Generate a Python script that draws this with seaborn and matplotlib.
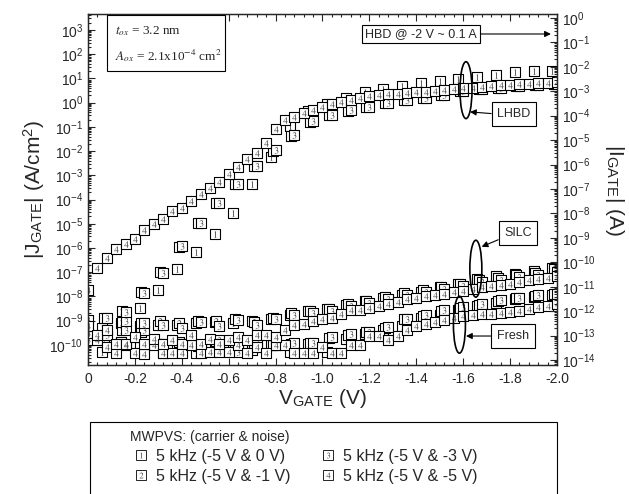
import numpy as np
import pandas as pd
import matplotlib
matplotlib.use("Agg")
import matplotlib.pyplot as plt
import seaborn as sns
from matplotlib.patches import Ellipse, Rectangle
from matplotlib.lines import Line2D
from matplotlib.ticker import LogLocator, MultipleLocator, FuncFormatter, NullFormatter

# --- gate voltage sweeps (V) ---
# series 4 is sampled every 40 mV, series 1-3 every 80 mV
V4 = [0.00, -0.04, -0.08, -0.12, -0.16, -0.20, -0.24, -0.28, -0.32, -0.36,
      -0.40, -0.44, -0.48, -0.52, -0.56, -0.60, -0.64, -0.68, -0.72, -0.76,
      -0.80, -0.84, -0.88, -0.92, -0.96, -1.00, -1.04, -1.08, -1.12, -1.16,
      -1.20, -1.24, -1.28, -1.32, -1.36, -1.40, -1.44, -1.48, -1.52, -1.56,
      -1.60, -1.64, -1.68, -1.72, -1.76, -1.80, -1.84, -1.88, -1.92, -1.96, -2.00]
V3 = [0.00, -0.08, -0.16, -0.24, -0.32, -0.40, -0.48, -0.56, -0.64, -0.72,
      -0.80, -0.88, -0.96, -1.04, -1.12, -1.20, -1.28, -1.36, -1.44, -1.52,
      -1.60, -1.68, -1.76, -1.84, -1.92, -2.00]
V2 = [-0.067, -0.147, -0.227, -0.307, -0.387, -0.467, -0.547, -0.627, -0.707,
      -0.787, -0.867, -0.947, -1.027, -1.107, -1.187, -1.267, -1.347, -1.427,
      -1.507, -1.587, -1.667, -1.747, -1.827, -1.907, -1.987]
V1 = [-0.06, -0.14, -0.22, -0.30, -0.38, -0.46, -0.54, -0.62, -0.70, -0.78,
      -0.86, -0.94, -1.02, -1.10, -1.18, -1.26, -1.34, -1.42, -1.50, -1.58,
      -1.66, -1.74, -1.82, -1.90, -1.98]

# --- log10 |J_GATE| (A/cm2); None = no point ---
FRESH1 = [-10.29, -9.90, -10.10, -9.95, -10.00, -10.33, -10.05, -9.95, -10.20, -10.00,
          -10.29, -9.95, -10.29, -9.75, -9.55, -9.40, -9.20, -8.90, -8.75, -8.55,
          -8.40, -8.28, -8.12, -8.02, -7.92]
SILC1 = [-9.30, -9.10, -9.20, -9.19, -9.19, -9.10, -9.05, -9.10, -9.00, -8.95,
         -8.75, -8.62, -8.52, -8.35, -8.18, -8.05, -7.92, -7.80, -7.63, -7.50,
         -7.30, -7.16, -7.07, -6.95, -6.82]
LHBD1 = [None, None, -8.47, -7.74, -6.88, -6.16, -5.43, -4.55, -3.36, -2.26,
         -0.95, -0.35, -0.05, 0.20, 0.43, 0.56, 0.70, 0.80, 0.91, 0.98,
         1.06, 1.15, 1.25, 1.29, 1.32]

FRESH2 = [-9.81, -9.40, -9.45, -9.95, -9.90, -10.05, -9.85, -10.20, -9.95, -10.00,
          -9.95, -9.93, -9.70, -9.58, -9.45, -9.30, -8.95, -8.82, -8.62, -8.48,
          -8.36, -8.20, -8.08, -7.98, -7.90]
SILC2 = [-8.88, -9.05, -9.10, -9.00, -9.10, -9.03, -9.00, -8.95, -9.05, -8.88,
         -8.70, -8.62, -8.52, -8.33, -8.18, -8.03, -7.85, -7.72, -7.62, -7.47,
         -7.34, -7.25, -7.12, -7.02, -6.88]
LHBD2 = [None, -8.62, -7.83, -7.00, -5.95, -4.98, -4.15, -3.36, -2.60, -1.98,
         -1.36, -0.78, -0.52, -0.33, -0.18, -0.02, 0.10, 0.18, 0.30, 0.47,
         0.55, 0.61, 0.67, 0.73, 0.77]

FRESH3 = [-9.81, -9.60, -9.37, -9.40, -10.33, -9.95, -10.10, -9.80, -10.29, -9.90,
          -10.02, -9.93, -9.93, -9.67, -9.55, -9.45, -9.26, -8.91, -8.78, -8.57,
          -8.45, -8.32, -8.16, -8.05, -7.95, -7.88]
SILC3 = [-8.96, -8.90, -9.00, -9.10, -9.19, -9.30, -9.05, -9.20, -8.98, -9.19,
         -8.91, -8.75, -8.70, -8.62, -8.40, -8.26, -8.12, -7.92, -7.80, -7.70,
         -7.56, -7.42, -7.34, -7.20, -7.10, -6.97]
LHBD3 = [None, None, -8.64, -7.85, -7.03, -5.93, -4.96, -4.14, -3.34, -2.62,
         -1.96, -1.34, -0.75, -0.51, -0.31, -0.17, 0.00, 0.11, 0.18, 0.31,
         0.48, 0.56, 0.62, 0.68, 0.74, 0.78]

FRESH4 = [-9.50, -9.81, -10.10, -10.33, -10.02, -10.33, -10.36, -10.02, -10.33, -10.33,
          -10.33, -10.02, -10.33, -10.29, -10.29, -10.29, -10.02, -10.33, -10.10, -10.33,
          -10.02, -10.02, -10.33, -10.33, -10.33, -10.10, -10.33, -10.33, -10.02, -10.02,
          -9.64, -9.64, -9.81, -9.64, -9.37, -9.22, -9.12, -9.05, -8.98, -8.87,
          -8.82, -8.78, -8.74, -8.71, -8.68, -8.64, -8.60, -8.50, -8.43, -8.40, -8.32]
SILC4 = [-9.23, -9.60, -9.40, -9.95, -9.95, -9.67, -9.95, -9.74, -9.95, -9.78,
         -9.95, -9.60, -9.95, -9.74, -9.95, -9.80, -9.67, -9.81, -9.60, -9.60,
         -9.67, -9.40, -9.19, -9.15, -9.01, -8.91, -8.87, -8.71, -8.57, -8.57,
         -8.46, -8.40, -8.32, -8.23, -8.12, -8.05, -8.00, -7.96, -7.90, -7.82,
         -7.76, -7.68, -7.62, -7.58, -7.54, -7.47, -7.40, -7.34, -7.30, -7.22, -7.17]
LHBD4 = [-7.74, -6.81, -6.40, -6.05, -5.84, -5.61, -5.26, -5.02, -4.81, -4.48,
         -4.33, -4.05, -3.78, -3.54, -3.29, -2.95, -2.67, -2.34, -2.07, -1.68,
         -1.10, -0.72, -0.58, -0.44, -0.31, -0.16, -0.06, 0.03, 0.12, 0.20,
         0.27, 0.31, 0.34, 0.37, 0.40, 0.43, 0.46, 0.49, 0.52, 0.55,
         0.59, 0.62, 0.65, 0.68, 0.71, 0.73, 0.76, 0.78, 0.81, 0.83, 0.86]

LEGEND_LABELS = ["5 kHz (-5 V & 0 V)", "5 kHz (-5 V & -1 V)",
                 "5 kHz (-5 V & -3 V)", "5 kHz (-5 V & -5 V)"]

# --- long table for seaborn ---
series_def = [
    (1, V1, {"Fresh": FRESH1, "SILC": SILC1, "LHBD": LHBD1}),
    (2, V2, {"Fresh": FRESH2, "SILC": SILC2, "LHBD": LHBD2}),
    (3, V3, {"Fresh": FRESH3, "SILC": SILC3, "LHBD": LHBD3}),
    (4, V4, {"Fresh": FRESH4, "SILC": SILC4, "LHBD": LHBD4}),
]
rows = []
for sid, volts, stages in series_def:
    for stage, vals in stages.items():
        for v, lj in zip(volts, vals):
            if lj is None:
                continue
            rows.append({"series": sid, "stage": stage, "V": v, "J": 10 ** lj})
df = pd.DataFrame(rows)

# --- style ---
sns.set_style("ticks")
plt.rcParams["font.family"] = ["Liberation Sans", "DejaVu Sans"]
plt.rcParams["mathtext.fontset"] = "stix"
plt.rcParams["axes.unicode_minus"] = False
plt.rcParams["axes.linewidth"] = 0.9

fig = plt.figure(figsize=(6.29, 4.94), dpi=100)
ax = fig.add_axes([0.1399, 0.2611, 0.7456, 0.7106])

BOX_S = 46
DIG_S = 22
for sid in [1, 2, 3, 4]:
    sub = df[df["series"] == sid]
    sns.scatterplot(data=sub, x="V", y="J", marker="s", s=BOX_S, color="white",
                    edgecolor="black", linewidth=0.8, ax=ax, legend=False,
                    zorder=2 + 2 * sid)
    sns.scatterplot(data=sub, x="V", y="J", marker=f"${sid}$", s=DIG_S,
                    color="#444444", linewidth=0, ax=ax, legend=False,
                    zorder=3 + 2 * sid)

ax.set_yscale("log")
ax.set_xlim(0, -2.0)
ax.set_ylim(10 ** -10.83, 10 ** 3.66)
ax.xaxis.set_major_locator(MultipleLocator(0.2))
ax.xaxis.set_minor_locator(MultipleLocator(0.04))
ax.xaxis.set_major_formatter(FuncFormatter(lambda v, p: "0" if abs(v) < 1e-9 else f"{v:.1f}"))
ax.yaxis.set_major_locator(LogLocator(base=10, numticks=30))
ax.yaxis.set_minor_locator(LogLocator(base=10, subs=np.arange(2, 10), numticks=30))
ax.yaxis.set_minor_formatter(NullFormatter())
ax.tick_params(which="both", direction="in", top=True, right=False, labelsize=10, width=0.8)
ax.tick_params(which="major", length=5)
ax.tick_params(which="minor", length=2.5)
ax.tick_params(axis="x", pad=5)

ax.set_xlabel(r"V$_{\mathregular{GATE}}$ (V)", fontsize=15, labelpad=1)
ax.set_ylabel(r"|J$_{\mathregular{GATE}}$| (A/cm$^{\mathregular{2}}$)", fontsize=15, labelpad=2)

# right axis: gate current
ax2 = ax.twinx()
ax2.set_yscale("log")
ax2.set_ylim(10 ** -14.2, 10 ** 0.16)
ax2.yaxis.set_major_locator(LogLocator(base=10, numticks=30))
ax2.yaxis.set_minor_locator(LogLocator(base=10, subs=np.arange(2, 10), numticks=30))
ax2.yaxis.set_minor_formatter(NullFormatter())
ax2.tick_params(which="both", direction="in", labelsize=10, width=0.8)
ax2.tick_params(which="major", length=5)
ax2.tick_params(which="minor", length=2.5)
ax2.set_ylabel(r"|I$_{\mathregular{GATE}}$| (A)", fontsize=15, rotation=270, labelpad=22)

# --- oxide info box ---
ax.add_patch(Rectangle((0.0405, 0.8376), 0.2516, 0.1595, transform=ax.transAxes,
                       facecolor="white", edgecolor="black", lw=0.8, zorder=20))
ax.text(0.058, 0.952, r"$t_{ox}$ = 3.2 nm", transform=ax.transAxes,
        family="Liberation Serif", fontsize=9.5, va="center", zorder=21)
ax.text(0.058, 0.882, r"$A_{ox}$ = 2.1x10$^{-4}$ cm$^{2}$", transform=ax.transAxes,
        family="Liberation Serif", fontsize=9.5, va="center", zorder=21)

# --- callouts ---
box = dict(boxstyle="square,pad=0.3", facecolor="white", edgecolor="black", lw=0.8)
arrow = dict(arrowstyle="-|>", color="black", lw=0.8, mutation_scale=9, shrinkA=0, shrinkB=0)

ax.annotate("HBD @ -2 V ~ 0.1 A", xy=(0.987, 0.943), xycoords="axes fraction",
            xytext=(0.710, 0.943), textcoords="axes fraction", ha="center", va="center",
            fontsize=9, bbox=dict(box, boxstyle="square,pad=0.25"),
            arrowprops=dict(arrow, relpos=(1, 0.5)), zorder=25)
ax.annotate("LHBD", xy=(0.8145, 0.721), xycoords="axes fraction",
            xytext=(0.908, 0.715), textcoords="axes fraction", ha="center", va="center",
            fontsize=9, bbox=dict(box, boxstyle="square,pad=0.45"),
            arrowprops=dict(arrow, relpos=(0, 0.5)), zorder=25)
ax.annotate("SILC", xy=(0.8394, 0.337), xycoords="axes fraction",
            xytext=(0.917, 0.376), textcoords="axes fraction", ha="center", va="center",
            fontsize=9, bbox=dict(box, boxstyle="square,pad=0.45"),
            arrowprops=dict(arrow, relpos=(0, 0.15)), zorder=25)
ax.annotate("Fresh", xy=(0.806, 0.0826), xycoords="axes fraction",
            xytext=(0.906, 0.0826), textcoords="axes fraction", ha="center", va="center",
            fontsize=9, bbox=dict(box, boxstyle="square,pad=0.45"),
            arrowprops=dict(arrow, relpos=(0, 0.5)), zorder=25)

for cx, cy in [(0.806, 0.783), (0.827, 0.2744), (0.792, 0.1148)]:
    ax.add_patch(Ellipse((cx, cy), 0.0256, 0.162, transform=ax.transAxes,
                         fill=False, edgecolor="black", lw=1.2, zorder=24))

# --- legend below the plot ---
handles = []
for sid in [1, 2, 3, 4]:
    h_box = Line2D([], [], marker="s", ms=7, mfc="white", mec="black", mew=0.6, ls="none")
    h_dig = Line2D([], [], marker=f"${sid}$", ms=4.2, color="#444444", mew=0, ls="none")
    handles.append((h_box, h_dig))

fig.add_artist(Rectangle((90 / 629, -0.01), (557 - 90) / 629, (494 - 422) / 494 + 0.01,
                         transform=fig.transFigure, fill=False, edgecolor="black", lw=0.8))
leg = fig.legend(handles, LEGEND_LABELS, ncol=2, title="MWPVS: (carrier & noise)",
                 alignment="left", loc="upper left", bbox_to_anchor=(130 / 629, 1 - 430 / 494),
                 frameon=False, fontsize=11.5, title_fontsize=10, borderpad=0, borderaxespad=0,
                 handlelength=1.4, handletextpad=0.25, columnspacing=1.6, labelspacing=0.3)

fig.savefig("out.png", dpi=100)
